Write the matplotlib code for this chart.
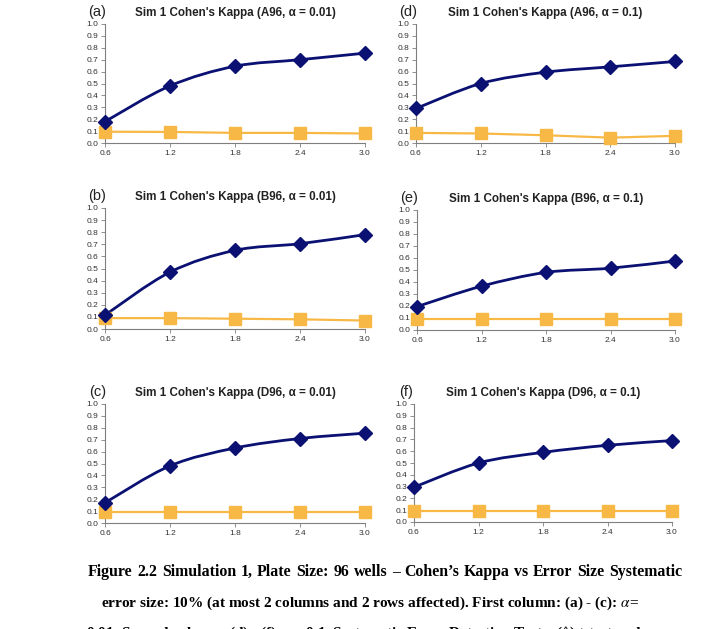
import matplotlib
matplotlib.use("Agg")
import matplotlib.pyplot as plt
import numpy as np
from matplotlib.path import Path
from matplotlib.patches import PathPatch

W, H = 712, 629

error_size = [0.6, 1.2, 1.8, 2.4, 3.0]
x_ticklabels = ["0.6", "1.2", "1.8", "2.4", "3.0"]
y_ticks = [round(0.1 * i, 1) for i in range(11)]

labels = ["(a)", "(b)", "(c)", "(d)", "(e)", "(f)"]
titles = [
    "Sim 1 Cohen's Kappa (A96, \u03b1 = 0.01)",
    "Sim 1 Cohen's Kappa (B96, \u03b1 = 0.01)",
    "Sim 1 Cohen's Kappa (D96, \u03b1 = 0.01)",
    "Sim 1 Cohen's Kappa (A96, \u03b1 = 0.1)",
    "Sim 1 Cohen's Kappa (B96, \u03b1 = 0.1)",
    "Sim 1 Cohen's Kappa (D96, \u03b1 = 0.1)",
]
# t-test (diamonds) and the second test (squares)
kappa_t = [
    [0.18, 0.48, 0.645, 0.70, 0.755],
    [0.115, 0.47, 0.65, 0.705, 0.78],
    [0.17, 0.48, 0.63, 0.71, 0.755],
    [0.29, 0.50, 0.595, 0.64, 0.685],
    [0.195, 0.365, 0.48, 0.515, 0.575],
    [0.295, 0.50, 0.59, 0.65, 0.69],
]
kappa_s = [
    [0.095, 0.093, 0.085, 0.085, 0.08],
    [0.09, 0.09, 0.085, 0.08, 0.07],
    [0.095, 0.095, 0.095, 0.095, 0.095],
    [0.085, 0.08, 0.065, 0.045, 0.06],
    [0.09, 0.09, 0.09, 0.09, 0.09],
    [0.095, 0.095, 0.095, 0.095, 0.095],
]

caption = [
    "Figure 2.2 Simulation 1, Plate Size: 96 wells \u2013 Cohen\u2019s Kappa vs Error Size Systematic",
    "error size: 10% (at most 2 columns and 2 rows affected). First column: (a) - (c): $\\alpha$=",
    "0.01; Second column: (d) - (f): $\\alpha$= 0.1. Systematic Error Detection Tests: (\u25ca) t-test and",
]

# axes boxes in pixels: left, right, top, bottom
boxes = [
    (105, 365, 24, 143),
    (105, 365, 208, 329),
    (105, 365, 404, 523),
    (416, 675, 24, 143),
    (417, 675, 210, 330),
    (414, 672, 404, 522),
]

NAVY = "#0a1172"
ORANGE = "#f8b846"
SPINE = "#7f7f7f"
TXT = "#333333"

plt.rcParams["font.family"] = ["Liberation Sans", "DejaVu Sans"]
plt.rcParams["mathtext.fontset"] = "stix"


def smooth_path(xs, ys):
    # Excel-style smoothed line: cubic Bezier through the points
    p = np.column_stack([xs, ys])
    verts = [p[0]]
    codes = [Path.MOVETO]
    n = len(p)
    for i in range(n - 1):
        p0 = p[max(i - 1, 0)]
        p1, p2 = p[i], p[i + 1]
        p3 = p[min(i + 2, n - 1)]
        c1 = p1 + (p2 - p0) / 6.0
        c2 = p2 - (p3 - p1) / 6.0
        verts += [c1, c2, p2]
        codes += [Path.CURVE4] * 3
    return Path(verts, codes)


fig = plt.figure(figsize=(W / 100, H / 100), dpi=100)

for k in range(6):
    l, r, t, b = boxes[k]
    ax = fig.add_axes([l / W, 1 - b / H, (r - l) / W, (b - t) / H])
    ax.set_xlim(0.6, 3.0)
    ax.set_ylim(0, 1.0)

    patch = PathPatch(smooth_path(error_size, kappa_t[k]), facecolor="none",
                      edgecolor=NAVY, lw=2.0, clip_on=False, zorder=3)
    ax.add_patch(patch)
    ax.plot(error_size, kappa_t[k], ls="none", marker="D", ms=7.5,
            color=NAVY, clip_on=False, zorder=4)
    ax.plot(error_size, kappa_s[k], color=ORANGE, lw=1.6, marker="s",
            ms=8, clip_on=False, zorder=3)

    for side in ("top", "right"):
        ax.spines[side].set_visible(False)
    for side in ("left", "bottom"):
        ax.spines[side].set_color(SPINE)
        ax.spines[side].set_linewidth(0.8)

    ax.set_xticks(error_size)
    ax.set_xticklabels(x_ticklabels)
    ax.set_yticks(y_ticks)
    ax.set_yticklabels([f"{v:.1f}" for v in y_ticks])
    ax.tick_params(axis="both", labelsize=6, colors=SPINE, labelcolor=TXT,
                   length=3, width=0.6, direction="out", pad=2)

    ax.text(0.5, 1.04, titles[k], transform=ax.transAxes, ha="center",
            va="bottom", fontsize=8.4, fontweight="bold", color="#222222")
    ax.text(-0.03, 1.04, labels[k], transform=ax.transAxes, ha="center",
            va="bottom", fontsize=10.5, color="#222222")

cap_font = ["Liberation Serif", "DejaVu Serif"]
cap_kw = dict(family=cap_font, fontweight="bold", fontsize=11,
              ha="left", va="baseline")
first_kw = dict(cap_kw, fontsize=11.4)

# first caption line is justified between x=88 and x=682
renderer = fig.canvas.get_renderer()
words = caption[0].split(" ")
word_w = []
for w in words:
    tmp = fig.text(0, 0, w, **first_kw)
    word_w.append(tmp.get_window_extent(renderer).width)
    tmp.remove()
gap = (682 - 88 - sum(word_w)) / (len(words) - 1)
x = 88
for w, ww in zip(words, word_w):
    fig.text(x / W, 1 - 576 / H, w, **first_kw)
    x += ww + gap

fig.text(101 / W, 1 - 607 / H, caption[1], **cap_kw)
fig.text(86 / W, 1 - 637 / H, caption[2], **cap_kw)

fig.savefig("out.png", dpi=100)
